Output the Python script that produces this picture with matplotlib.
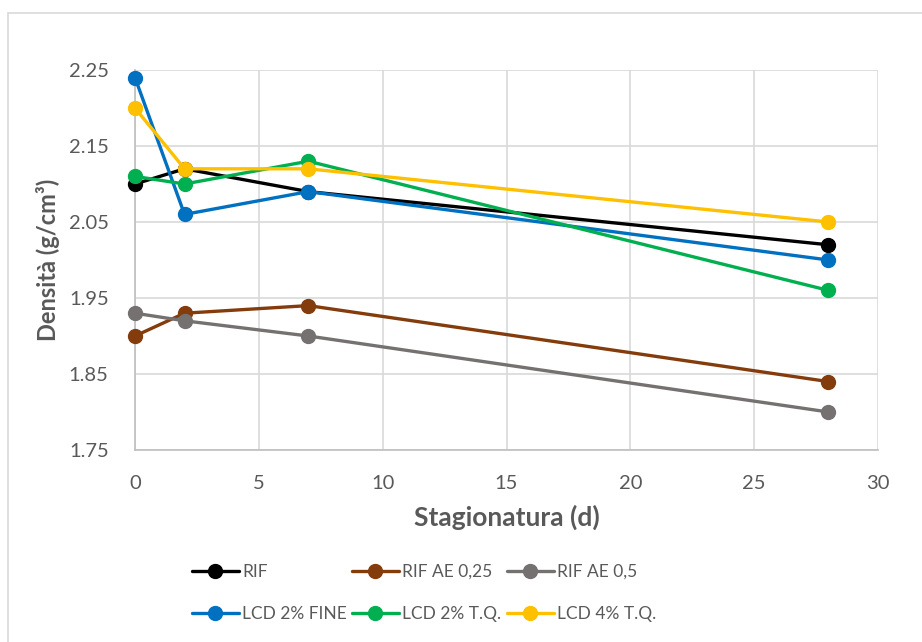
import matplotlib
import matplotlib.pyplot as plt
from matplotlib.patches import Rectangle

plt.rcParams['font.family'] = ['Lato', 'DejaVu Sans']

giorni = [0, 2, 7, 28]
rif = [2.10, 2.12, 2.09, 2.02]
rif_ae_025 = [1.90, 1.93, 1.94, 1.84]
rif_ae_05 = [1.93, 1.92, 1.90, 1.80]
lcd2_fine = [2.24, 2.06, 2.09, 2.00]
lcd2_tq = [2.11, 2.10, 2.13, 1.96]
lcd4_tq = [2.20, 2.12, 2.12, 2.05]

serie = [
    ("RIF", rif, "#000000"),
    ("RIF AE 0,25", rif_ae_025, "#843C0C"),
    ("RIF AE 0,5", rif_ae_05, "#767171"),
    ("LCD 2% FINE", lcd2_fine, "#0070C0"),
    ("LCD 2% T.Q.", lcd2_tq, "#00B050"),
    ("LCD 4% T.Q.", lcd4_tq, "#FFC000"),
]

fig = plt.figure(figsize=(9.22, 6.42), dpi=100)
ax = fig.add_axes([135 / 922, 1 - 450 / 642, 743 / 922, 380 / 642])

# cornice del grafico
fig.patches.append(Rectangle((8 / 922, -0.1), 1.2, 1 - 13 / 642 + 0.1,
                             transform=fig.transFigure, fill=False,
                             edgecolor="#D9D9D9", linewidth=1.2))

linee = {}
for nome, valori, col in serie:
    l, = ax.plot(giorni, valori, color=col, lw=2.4, marker='o', ms=10,
                 label=nome, solid_capstyle='round', clip_on=False, zorder=3)
    linee[nome] = l

ax.set_xlim(0, 30)
ax.set_ylim(1.75, 2.25)
ax.set_xticks([0, 5, 10, 15, 20, 25, 30])
ax.set_yticks([1.75, 1.85, 1.95, 2.05, 2.15, 2.25])
ax.set_yticklabels(["1.75", "1.85", "1.95", "2.05", "2.15", "2.25"])
ax.grid(True, color="#D9D9D9", lw=1.2)
ax.set_axisbelow(True)
ax.tick_params(length=0, labelsize=14.5, colors="#595959")
ax.tick_params(axis='x', pad=18)
ax.tick_params(axis='y', pad=19)
for s in ["top", "right"]:
    ax.spines[s].set_visible(False)
for s in ["left", "bottom"]:
    ax.spines[s].set_color("#BFBFBF")
    ax.spines[s].set_linewidth(1.2)

ax.set_xlabel("Stagionatura (d)", fontsize=19, fontweight='bold',
              color="#595959", labelpad=9)
ax.set_ylabel("Densità (g/cm³)", fontsize=17, fontweight='bold',
              color="#595959", labelpad=6)

ordine = ["RIF", "LCD 2% FINE", "RIF AE 0,25", "LCD 2% T.Q.",
          "RIF AE 0,5", "LCD 4% T.Q."]
leg = fig.legend([linee[n] for n in ordine], ordine, ncol=3,
                 loc='upper left', bbox_to_anchor=(183 / 922, 1 - 555 / 642),
                 frameon=False, fontsize=12.5, handlelength=2.7,
                 handletextpad=0.2, columnspacing=0.3, labelspacing=1.5,
                 borderpad=0)
for t in leg.get_texts():
    t.set_color("#595959")

fig.savefig("out.png", dpi=100)
